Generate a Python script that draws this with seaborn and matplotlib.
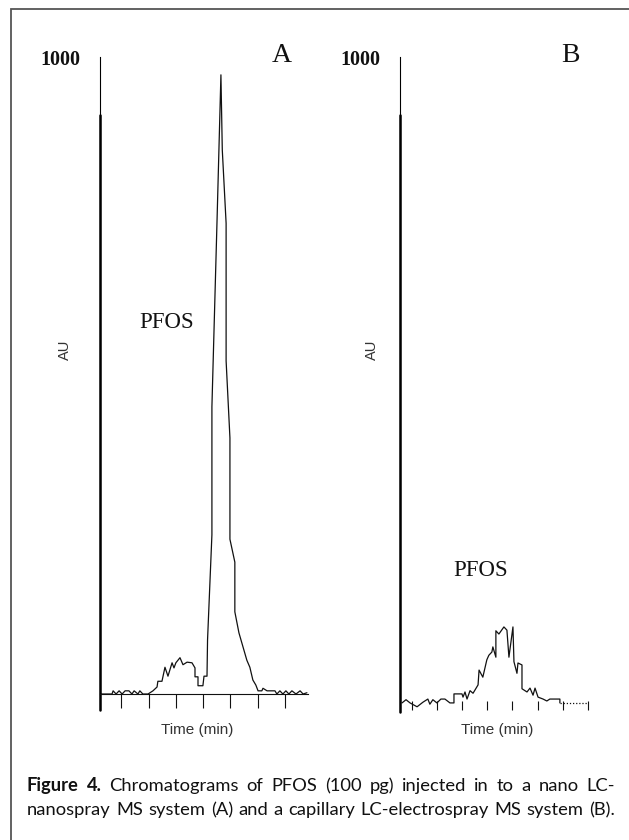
import matplotlib
matplotlib.use("Agg")
import matplotlib.pyplot as plt
import seaborn as sns
import pandas as pd
from matplotlib.patches import Rectangle

sns.set_theme(style="white")
plt.rcParams['font.family'] = ['DejaVu Sans']

# ---------------- data ----------------
# Panel A: nano LC-nanospray MS
time_a = [0.22, 0.66, 0.70, 0.81, 0.92, 1.03, 1.14, 1.28, 1.39, 1.47, 1.61, 1.68, 1.79, 1.98,
          2.16, 2.31, 2.34, 2.49, 2.60, 2.71, 2.86, 2.93, 3.00, 3.15, 3.26, 3.41, 3.59, 3.70,
          3.70, 3.81, 3.81, 3.99, 4.03, 4.14, 4.16, 4.32, 4.32, 4.51, 4.65, 4.70, 4.84, 4.84,
          4.98, 4.98, 5.16, 5.16, 5.31, 5.60, 5.71, 5.82, 5.93, 6.01, 6.15, 6.19, 6.34, 6.63,
          6.70, 6.81, 6.92, 7.03, 7.14, 7.25, 7.40, 7.55, 7.66, 7.80]
au_a = [0, 0, 5, 0, 5, 0, 5, 5, 0, 5, 0, 5, 0, 0,
        5, 11, 20, 20, 42, 28, 49, 41, 49, 57, 46, 50, 49, 41,
        27, 27, 13, 13, 28, 28, 85, 250, 451, 747, 972, 854, 739, 523,
        402, 243, 207, 129, 96, 53, 42, 22, 14, 5, 5, 9, 5, 5,
        0, 5, 0, 5, 0, 5, 0, 5, 0, 2]

# Panel B: capillary LC-electrospray MS
time_b = [0.60, 0.76, 0.92, 1.20, 1.43, 1.63, 1.71, 1.83, 1.99, 2.15, 2.31, 2.51, 2.67, 2.67,
          2.99, 3.03, 3.11, 3.19, 3.31, 3.43, 3.63, 3.67, 3.82, 3.98, 4.06, 4.18, 4.22, 4.34,
          4.34, 4.46, 4.66, 4.78, 4.86, 5.02, 5.06, 5.18, 5.22, 5.38, 5.38, 5.58, 5.70, 5.82,
          5.90, 6.02, 6.22, 6.37, 6.49, 6.89, 6.89]
au_b = [-3, 2, -3, -9, -2, 3, -5, 2, -3, 3, 3, -3, -3, 11,
        11, 6, 14, 3, 16, 12, 25, 48, 37, 64, 71, 76, 84, 68,
        109, 104, 115, 110, 68, 115, 61, 43, 59, 56, 19, 14, 20, 9,
        20, 6, 3, 0, 3, 3, -3]
time_b_tail = [6.89, 8.0]
au_b_tail = [-3, -3]

ticks_a = [1, 2, 3, 4, 5, 6, 7]
ticks_b = [1, 2, 3, 4, 5, 6, 7, 8]

panel_labels = ["A", "B"]
ymax_label = "1000"
peak_label = "PFOS"
x_label = "Time (min)"
y_label = "AU"
caption_1 = "Chromatograms of PFOS (100 pg) injected in to a nano LC-"
caption_2 = "nanospray MS system (A) and a capillary LC-electrospray MS system (B)."

# ---------------- figure ----------------
W, H = 629, 840
fig = plt.figure(figsize=(W / 100, H / 100), dpi=100)
fig.patch.set_facecolor("white")


def fx(x):
    return x / W


def fy(y):
    return 1 - y / H


def px_axes(x0, x1, y0, y1):
    return fig.add_axes([fx(x0), fy(y1), (x1 - x0) / W, (y1 - y0) / H])


# outer frame
fig.add_artist(Rectangle((fx(11), -0.2), 1.2, fy(9) + 0.2, transform=fig.transFigure,
                         fill=False, edgecolor="#555555", lw=1.3))

serif = ["Liberation Serif", "DejaVu Serif"]
sans = ["Liberation Sans", "DejaVu Sans"]

panels = [
    dict(box=(100, 308, 57, 710), xlim=(0.22, 7.84), ylim=(-25.1, 1000), t=time_a, v=au_a,
         ticks=ticks_a, ticklen=10.0, baseline=True, thick_frac=0.911),
    dict(box=(400, 590, 57, 712), xlim=(0.52, 8.09), ylim=(-17.1, 1000), t=time_b, v=au_b,
         ticks=ticks_b, ticklen=6.5, baseline=False, thick_frac=0.911),
]
axes = []
for p in panels:
    ax = px_axes(*p["box"])
    ax.set_facecolor("none")
    ax.set_xlim(*p["xlim"])
    ax.set_ylim(*p["ylim"])
    sns.lineplot(x=p["t"], y=p["v"], ax=ax, sort=False, estimator=None,
                 color="#111111", lw=0.9)
    for s in ["top", "right"]:
        ax.spines[s].set_visible(False)
    ax.spines["left"].set_color("#000000")
    ax.spines["left"].set_linewidth(0.8)
    ax.spines["bottom"].set_position(("data", 0))
    ax.spines["bottom"].set_color("#111111")
    ax.spines["bottom"].set_linewidth(0.8 if p["baseline"] else 0)
    ax.set_xticks(p["ticks"])
    ax.set_xticklabels([])
    ax.set_yticks([])
    ax.tick_params(axis="x", direction="out", length=p["ticklen"], width=0.8,
                   color="#111111", bottom=True)
    ax.axvline(p["xlim"][0], ymin=0, ymax=p["thick_frac"], color="#000000",
               lw=1.8, clip_on=False)
    ax.set_xlabel("")
    ax.set_ylabel("")
    axes.append(ax)

# tail of B trace (dotted)
sns.lineplot(x=time_b_tail, y=au_b_tail, ax=axes[1], estimator=None, color="#111111",
             lw=0.9, linestyle=(0, (1, 1.5)))

# texts
for xc, lab in zip([282, 570], panel_labels):
    fig.text(fx(xc), fy(56), lab, ha="center", va="center", fontsize=20,
             family=serif, color="#111111")
for xc in [60, 360]:
    fig.text(fx(xc), fy(60), ymax_label, ha="center", va="center", fontsize=14.5,
             family=serif, weight="bold", color="#111111")
for (xc, yc) in [(167, 323), (481, 570)]:
    fig.text(fx(xc), fy(yc), peak_label, ha="center", va="center", fontsize=16.5,
             family=serif, color="#111111")
for xc in [65, 372]:
    fig.text(fx(xc), fy(350), y_label, ha="center", va="center", fontsize=10.5,
             family=sans, rotation=90, color="#333333")
for xc in [197, 497]:
    fig.text(fx(xc), fy(730), x_label, ha="center", va="center", fontsize=11,
             family=sans, color="#333333")

# justified caption
renderer = fig.canvas.get_renderer()
cap_font = ["Lato", "DejaVu Sans"]


def justified(words, y_base, x0=27, x1=615, size=13.2):
    arts = []
    for w, bold in words:
        t = fig.text(0, fy(y_base), w, ha="left", va="baseline", fontsize=size,
                     family=cap_font, weight="bold" if bold else "normal", color="#111111")
        arts.append(t)
    widths = [a.get_window_extent(renderer).width for a in arts]
    gap = (x1 - x0 - sum(widths)) / (len(arts) - 1)
    x = x0
    for a, wd in zip(arts, widths):
        a.set_x(fx(x))
        x += wd + gap


line1 = [("Figure", True), ("4.", True)] + [(w, False) for w in caption_1.split()]
line2 = [(w, False) for w in caption_2.split()]
justified(line1, 791)
justified(line2, 815)

fig.savefig("out.png", dpi=100, facecolor="white")
